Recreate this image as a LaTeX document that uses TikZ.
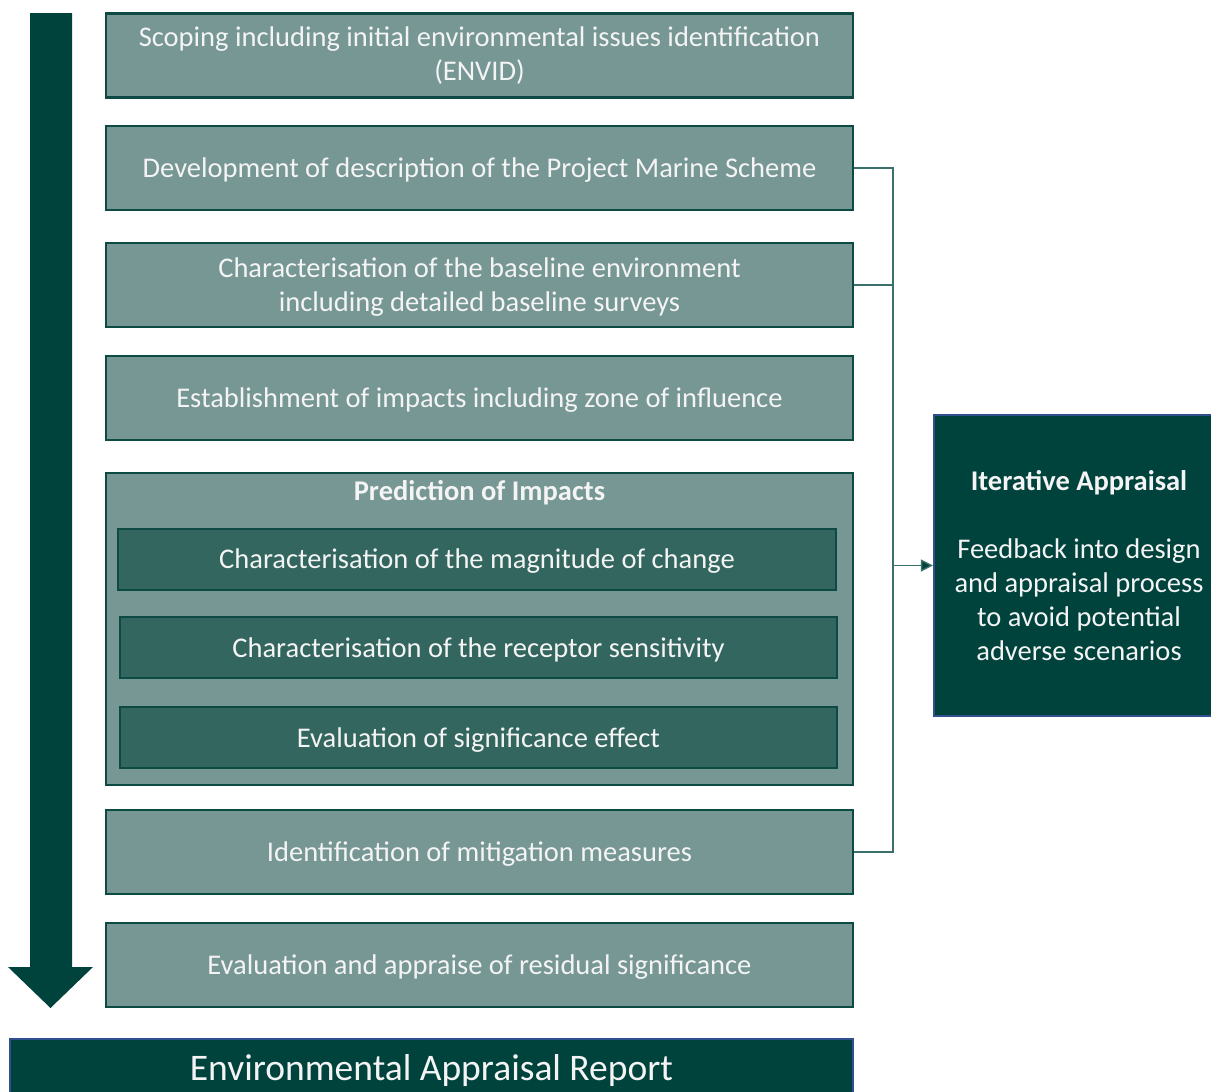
\documentclass[tikz,border=0pt]{standalone}
\usepackage{fontspec}
\setmainfont{Carlito}
\usetikzlibrary{arrows.meta}
\definecolor{boxfill}{HTML}{769794}
\definecolor{boxline}{HTML}{0D4A43}
\definecolor{deepgreen}{HTML}{00433D}
\definecolor{innerfill}{HTML}{33665F}
\definecolor{blueline}{HTML}{2F4F8F}
\definecolor{connline}{HTML}{3A7069}
\definecolor{paletext}{HTML}{F4F4F4}
\begin{document}
\begin{tikzpicture}[x=1pt,y=-1pt,
  stage/.style={draw=boxline, line width=2.2pt, fill=boxfill, text=paletext,
    minimum width=747pt, minimum height=84pt, align=center, inner sep=0pt,
    text depth=0pt, font=\fontsize{28.5}{34}\selectfont},
  substage/.style={draw=boxline, line width=2pt, fill=innerfill, text=paletext,
    minimum width=717pt, minimum height=61pt, align=center, inner sep=0pt,
    text depth=0pt, font=\fontsize{28.5}{34}\selectfont},
  darkbox/.style={draw=blueline, line width=2.2pt, fill=deepgreen, text=paletext,
    align=center, inner sep=0pt},
  conn/.style={draw=connline, line width=1.4pt}]
\useasboundingbox (0,0) rectangle (1211,1092);

% main downward process arrow
\fill[deepgreen] (30,13) -- (72,13) -- (72,967) -- (93,967) -- (50.5,1008)
  -- (8,967) -- (30,967) -- cycle;

% process stages
\node[stage, text depth=4pt] (scope) at (479.5,55.5) {Scoping including initial environmental issues identification\\(ENVID)};
\node[stage] (dev) at (479.5,168) {Development of description of the Project Marine Scheme};
\node[stage] (base) at (479.5,285) {Characterisation of the baseline environment\\including detailed baseline surveys};
\node[stage] (impact) at (479.5,398) {Establishment of impacts including zone of influence};
\node[stage, minimum height=312pt] (pred) at (479.5,629) {};
\node[text=paletext, font=\fontsize{28.5}{34}\selectfont\bfseries] (predtitle) at (479.5,493) {Prediction of Impacts};
\node[substage, minimum width=718pt] (mag) at (477,559) {Characterisation of the magnitude of change};
\node[substage] (sens) at (478.5,647.5) {Characterisation of the receptor sensitivity};
\node[substage] (signif) at (478.5,737.5) {Evaluation of significance effect};
\node[stage] (mitig) at (479.5,852) {Identification of mitigation measures};
\node[stage] (resid) at (479.5,965) {Evaluation and appraise of residual significance};

% final report
\node[darkbox, minimum width=843pt, minimum height=62pt,
  font=\fontsize{37.5}{44}\selectfont] (report) at (431.5,1070) {Environmental Appraisal Report};

% iterative appraisal feedback box
\node[darkbox, minimum width=290pt, minimum height=301pt,
  font=\fontsize{28.5}{34}\selectfont] (iter) at (1079,565.5)
  {\textbf{Iterative Appraisal}\\[34pt]Feedback into design\\and appraisal process\\to avoid potential\\adverse scenarios};

% feedback connectors
\coordinate (bus) at (893,0);
\draw[conn] (dev.east) -| (bus |- mitig.east) -- (mitig.east);
\draw[conn] (base.east) -- (base.east -| bus);
\draw[conn, -{Triangle[length=12pt,width=12pt,fill=deepgreen]}] (bus |- iter.west) -- (iter.west);
\end{tikzpicture}
\end{document}
